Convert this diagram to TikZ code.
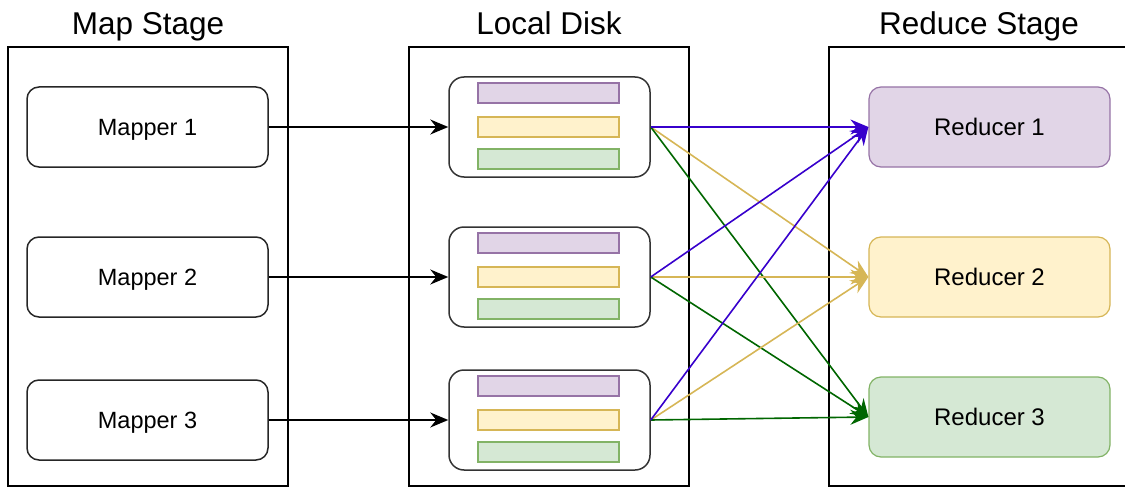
\documentclass[tikz,border=0pt]{standalone}
\usepackage{fontspec}
\setmainfont{Liberation Sans}
\usetikzlibrary{arrows.meta}
\definecolor{pfill}{HTML}{E1D5E7}\definecolor{pline}{HTML}{9673A6}
\definecolor{yfill}{HTML}{FFF2CC}\definecolor{yline}{HTML}{D6B656}
\definecolor{gfill}{HTML}{D5E8D4}\definecolor{gline}{HTML}{82B366}
\definecolor{parrow}{HTML}{3700CC}\definecolor{yarrow}{HTML}{D6B656}\definecolor{garrow}{HTML}{006600}
\tikzset{
  container/.style={draw=black, line width=1.5pt, minimum width=280pt, minimum height=439pt, inner sep=0pt},
  title/.style={font=\fontsize{31.5}{36}\selectfont, anchor=base},
  mapbox/.style={draw=black!85, line width=1.5pt, rounded corners=12pt, minimum width=241pt, minimum height=80pt, inner sep=0pt,
    font=\fontsize{23.5}{27}\selectfont, text height=16.9pt, text depth=0pt},
  diskbox/.style={draw=black!80, line width=1.5pt, rounded corners=15pt, minimum width=201pt, minimum height=100pt, inner sep=0pt, fill=white},
  bar/.style={line width=1.2pt, minimum width=141pt, minimum height=20pt, inner sep=0pt},
  redbox/.style={line width=1.2pt, rounded corners=12pt, minimum width=241pt, minimum height=80pt, inner sep=0pt,
    font=\fontsize{24}{28}\selectfont, text height=17.3pt, text depth=0pt},
  arr/.style={line width=1.6pt, -{Stealth[length=18pt,width=15pt,inset=6pt]}},
}
\begin{document}
\begin{tikzpicture}[x=1pt,y=-1pt]
\useasboundingbox (0,0) rectangle (1125,487);
\clip (0,0) rectangle (1125,487);
% containers
\node[container] (mapc) at (148,266.5) {};
\node[container] (diskc) at (549,266.5) {};
\node[container, minimum width=300pt] (redc) at (979,266.5) {};
% titles
\node[title] (t1) at (148,35) {Map Stage};
\node[title] (t2) at (549,35) {Local Disk};
\node[title] (t3) at (979,35) {Reduce Stage};
% mappers
\node[mapbox] (m1) at (147.5,127) {Mapper 1};
\node[mapbox] (m2) at (147.5,277) {Mapper 2};
\node[mapbox] (m3) at (147.5,420) {Mapper 3};
% disks
\foreach \i/\y in {1/127,2/277,3/420}{
  \node[diskbox] (d\i) at (549.5,\y) {};
  \node[bar, draw=pline, fill=pfill] (d\i p) at (548.5,\y-34) {};
  \node[bar, draw=yline, fill=yfill] (d\i y) at (548.5,\y) {};
  \node[bar, draw=gline, fill=gfill] (d\i g) at (548.5,\y+32) {};
}
% reducers
\node[redbox, draw=pline, fill=pfill] (r1) at (989.5,127) {Reducer 1};
\node[redbox, draw=yline, fill=yfill] (r2) at (989.5,277) {Reducer 2};
\node[redbox, draw=gline, fill=gfill] (r3) at (989.5,417) {Reducer 3};
% mapper -> disk
\foreach \i in {1,2,3}{
  \draw[arr, black] (m\i.east) -- (d\i.west);
}
% disk -> reducers
\foreach \i in {1,2,3}{
  \draw[arr, yarrow] (d\i.east) -- (r2.west);
  \draw[arr, garrow] (d\i.east) -- (r3.west);
  \draw[arr, parrow] (d\i.east) -- (r1.west);
}
\end{tikzpicture}
\end{document}
